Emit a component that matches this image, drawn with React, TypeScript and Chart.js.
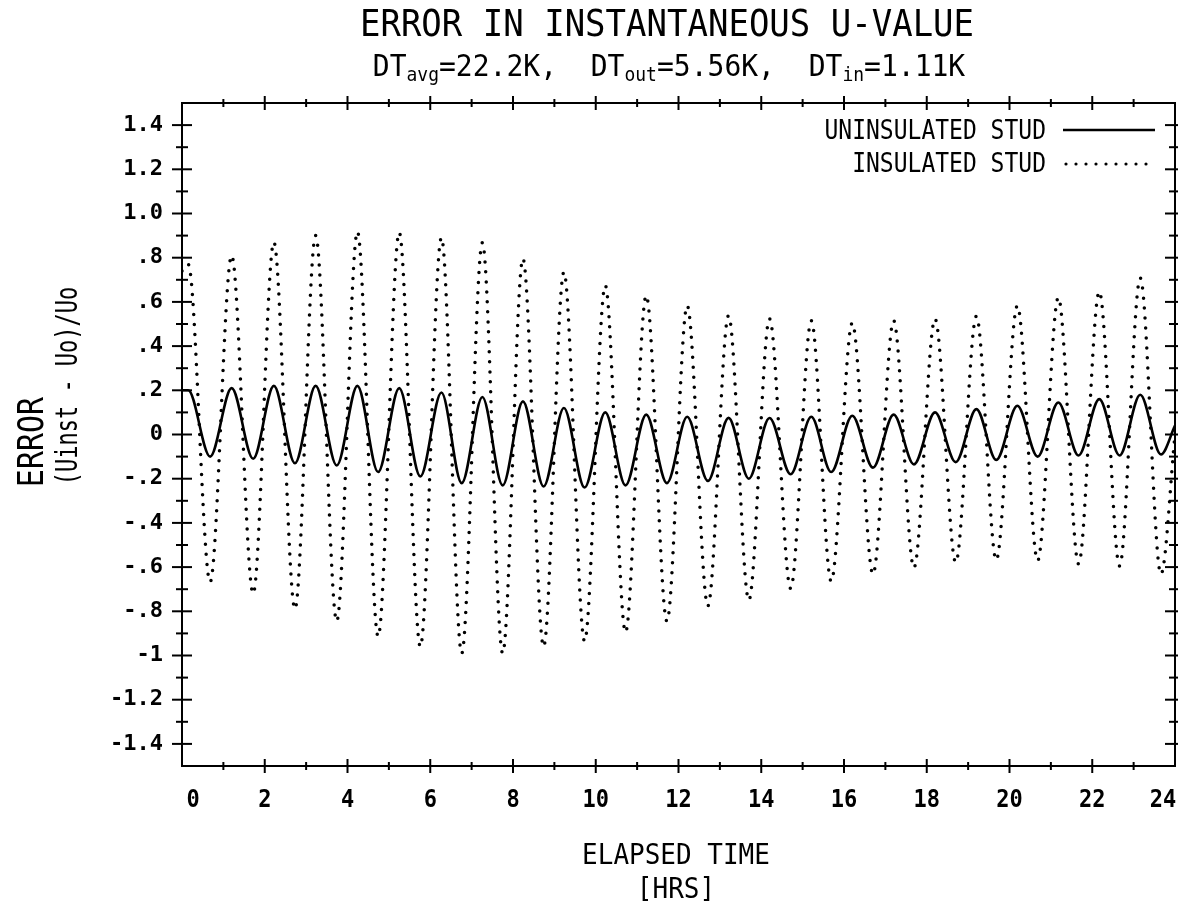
import React, { useEffect, useRef } from "react";
import { Chart, registerables } from "chart.js";

Chart.register(...registerables);

// ---- data (hours, error ratio) ----
const TIME_HRS = [
  0, 0.15, 0.68, 1.2, 1.72, 2.22, 2.73, 3.23, 3.74, 4.24, 4.74, 5.25, 5.76, 6.27, 6.76, 7.26, 7.75,
  8.24, 8.74, 9.23, 9.73, 10.23, 10.72, 11.22, 11.72, 12.21, 12.71, 13.21, 13.7, 14.2, 14.71, 15.21,
  15.69, 16.2, 16.7, 17.2, 17.69, 18.2, 18.7, 19.2, 19.68, 20.19, 20.68, 21.18, 21.67, 22.17, 22.66,
  23.16, 23.66, 24,
];

const UNINSULATED = [
  0.2, 0.2, -0.1, 0.21, -0.11, 0.22, -0.13, 0.22, -0.14, 0.22, -0.17, 0.21, -0.19, 0.19, -0.22, 0.17, -0.23,
  0.15, -0.235, 0.12, -0.24, 0.1, -0.23, 0.09, -0.22, 0.08, -0.21, 0.075, -0.2, 0.075, -0.18, 0.08,
  -0.17, 0.085, -0.15, 0.09, -0.135, 0.1, -0.125, 0.115, -0.115, 0.13, -0.1, 0.145, -0.095, 0.16, -0.095,
  0.18, -0.09, 0.04,
];

const INSULATED = [
  0.74, 0.77, -0.667, 0.81, -0.72, 0.87, -0.79, 0.9, -0.845, 0.917, -0.914, 0.914, -0.96, 0.89, -0.99, 0.868, -0.99,
  0.795, -0.96, 0.735, -0.935, 0.674, -0.895, 0.629, -0.845, 0.583, -0.776, 0.538, -0.75, 0.523, -0.697, 0.515,
  -0.664, 0.505, -0.632, 0.515, -0.603, 0.523, -0.579, 0.535, -0.568, 0.583, -0.571, 0.62, -0.586, 0.647, -0.595,
  0.708, -0.632, 0.0,
];

const X_TICKS = [0, 2, 4, 6, 8, 10, 12, 14, 16, 18, 20, 22, 24];
const X_TICK_LABELS = ["0", "2", "4", "6", "8", "10", "12", "14", "16", "18", "20", "22", "24"];
const X_MINOR_TICKS = [1, 3, 5, 7, 9, 11, 13, 15, 17, 19, 21, 23];

const Y_TICKS = [-1.4, -1.2, -1.0, -0.8, -0.6, -0.4, -0.2, 0, 0.2, 0.4, 0.6, 0.8, 1.0, 1.2, 1.4];
const Y_TICK_LABELS = ["-1.4", "-1.2", "-1", "-.8", "-.6", "-.4", "-.2", "0", ".2", ".4", ".6", ".8", "1.0", "1.2", "1.4"];
const Y_MINOR_TICKS = [-1.3, -1.1, -0.9, -0.7, -0.5, -0.3, -0.1, 0.1, 0.3, 0.5, 0.7, 0.9, 1.1, 1.3];

const TITLE = "ERROR IN INSTANTANEOUS U-VALUE";
const SUBTITLE_PARTS: [string, boolean][] = [
  ["DT", false], ["avg", true], ["=22.2K,  DT", false], ["out", true], ["=5.56K,  DT", false], ["in", true], ["=1.11K", false],
];
const Y_TITLE = "ERROR";
const Y_SUBTITLE = "(Uinst - Uo)/Uo";
const X_TITLE = "ELAPSED TIME";
const X_SUBTITLE = "[HRS]";
const SERIES_NAMES = ["UNINSULATED STUD", "INSULATED STUD"];

const FAMILY = "'DejaVu Sans Mono', monospace";

function drawText(
  ctx: CanvasRenderingContext2D,
  text: string,
  x: number,
  y: number,
  size: number,
  align: CanvasTextAlign,
  stretch = 1,
  rotate = 0,
  weight = "normal"
) {
  ctx.save();
  ctx.translate(x, y);
  if (rotate) ctx.rotate(rotate);
  ctx.scale(1, stretch);
  ctx.font = `${weight} ${size}px ${FAMILY}`;
  ctx.textAlign = align;
  ctx.textBaseline = "alphabetic";
  ctx.fillStyle = "#000";
  ctx.fillText(text, 0, 0);
  ctx.restore();
}

const plotterPlugin = {
  id: "plotterFrame",
  afterDraw(chart: any) {
    const { ctx, chartArea: a, scales } = chart;
    const xs = scales.x;
    const ys = scales.y;
    ctx.save();
    ctx.strokeStyle = "#000";
    ctx.lineWidth = 2;
    ctx.strokeRect(a.left, a.top, a.right - a.left, a.bottom - a.top);

    const seg = (x1: number, y1: number, x2: number, y2: number) => {
      ctx.beginPath();
      ctx.moveTo(x1, y1);
      ctx.lineTo(x2, y2);
      ctx.stroke();
    };
    const xTick = (v: number, len: number) => {
      const px = xs.getPixelForValue(v);
      if (px <= a.left + 1 || px >= a.right - 1) return;
      seg(px, a.bottom - len, px, a.bottom + len);
      seg(px, a.top - len, px, a.top + len);
    };
    const yTick = (v: number, len: number) => {
      const py = ys.getPixelForValue(v);
      seg(a.left - len, py, a.left + len, py);
      seg(a.right - len, py, a.right + len, py);
    };
    X_TICKS.forEach((v) => xTick(v, 7));
    X_MINOR_TICKS.forEach((v) => xTick(v, 4));
    Y_TICKS.forEach((v) => yTick(v, 10));
    Y_MINOR_TICKS.forEach((v) => yTick(v, 6));

    // x tick labels (first and last nudged inside like the plotter did)
    X_TICKS.forEach((v, i) => {
      let px = xs.getPixelForValue(v);
      if (i === 0) px += 11;
      if (i === X_TICKS.length - 1) px -= 12;
      drawText(ctx, X_TICK_LABELS[i], px, a.bottom + 41, 22, "center", 1.1, 0, "bold");
    });

    // title
    drawText(ctx, TITLE, 667, 36, 34, "center", 1.12);

    // subtitle with subscripts
    const mainSize = 28;
    const subSize = 18;
    ctx.save();
    let total = 0;
    SUBTITLE_PARTS.forEach(([t, sub]) => {
      ctx.font = `normal ${sub ? subSize : mainSize}px ${FAMILY}`;
      total += ctx.measureText(t).width;
    });
    ctx.restore();
    let cx = 669 - total / 2;
    SUBTITLE_PARTS.forEach(([t, sub]) => {
      drawText(ctx, t, cx, sub ? 81 : 76, sub ? subSize : mainSize, "left", 1.05);
      ctx.save();
      ctx.font = `normal ${sub ? subSize : mainSize}px ${FAMILY}`;
      cx += ctx.measureText(t).width;
      ctx.restore();
    });

    // y axis titles (rotated)
    drawText(ctx, Y_TITLE, 43, 442, 30, "center", 1.2, -Math.PI / 2);
    drawText(ctx, Y_SUBTITLE, 77, 386, 22, "center", 1.35, -Math.PI / 2);

    // x axis titles
    drawText(ctx, X_TITLE, 676, 864, 26, "center", 1.12);
    drawText(ctx, X_SUBTITLE, 676, 898, 26, "center", 1.12);

    // legend
    drawText(ctx, SERIES_NAMES[0], 1046, 139, 23, "right", 1.12);
    drawText(ctx, SERIES_NAMES[1], 1046, 172, 23, "right", 1.12);
    ctx.lineWidth = 2.5;
    seg(1063, 130, 1155, 130);
    ctx.setLineDash([0, 10]);
    ctx.lineCap = "round";
    ctx.lineWidth = 3.2;
    seg(1066, 164, 1150, 164);
    ctx.restore();
  },
};

export default function App() {
  const canvasRef = useRef<HTMLCanvasElement | null>(null);

  useEffect(() => {
    if (!canvasRef.current) return;
    const labelFor = (vals: number[], labels: string[]) => (v: number) => {
      const i = vals.findIndex((t) => Math.abs(t - v) < 1e-6);
      return i >= 0 ? labels[i] : "";
    };
    const chart = new Chart(canvasRef.current, {
      type: "line",
      data: {
        datasets: [
          {
            label: SERIES_NAMES[0],
            data: TIME_HRS.map((t, i) => ({ x: t, y: UNINSULATED[i] })),
            borderColor: "#000",
            borderWidth: 2.6,
            pointRadius: 0,
            cubicInterpolationMode: "monotone",
            fill: false,
          },
          {
            label: SERIES_NAMES[1],
            data: TIME_HRS.map((t, i) => ({ x: t, y: INSULATED[i] })),
            borderColor: "#000",
            borderWidth: 3.5,
            borderDash: [0, 10],
            borderCapStyle: "round",
            pointRadius: 0,
            cubicInterpolationMode: "monotone",
            fill: false,
          },
        ],
      },
      options: {
        animation: false,
        responsive: true,
        maintainAspectRatio: false,
        layout: { padding: { left: 0, right: 3, top: 103, bottom: 139 } },
        plugins: {
          legend: { display: false },
          tooltip: { enabled: false },
          title: { display: false },
        },
        scales: {
          x: {
            type: "linear",
            display: false,
            min: 0,
            max: 24,
          },
          y: {
            type: "linear",
            min: -1.5,
            max: 1.5,
            grid: { display: false, drawTicks: false },
            border: { display: false },
            afterBuildTicks: (s: any) => {
              s.ticks = Y_TICKS.map((v) => ({ value: v }));
            },
            afterFit: (s: any) => {
              s.width = 182;
            },
            ticks: {
              callback: (v: any) => labelFor(Y_TICKS, Y_TICK_LABELS)(Number(v)),
              font: { family: FAMILY, size: 22, weight: "bold" },
              color: "#000",
              padding: 19,
              autoSkip: false,
            },
          },
        },
      } as any,
      plugins: [plotterPlugin],
    });
    return () => chart.destroy();
  }, []);

  return (
    <div style={{ position: "absolute", left: 0, top: 0, width: 1178, height: 905, background: "#fff" }}>
      <canvas ref={canvasRef} />
    </div>
  );
}
